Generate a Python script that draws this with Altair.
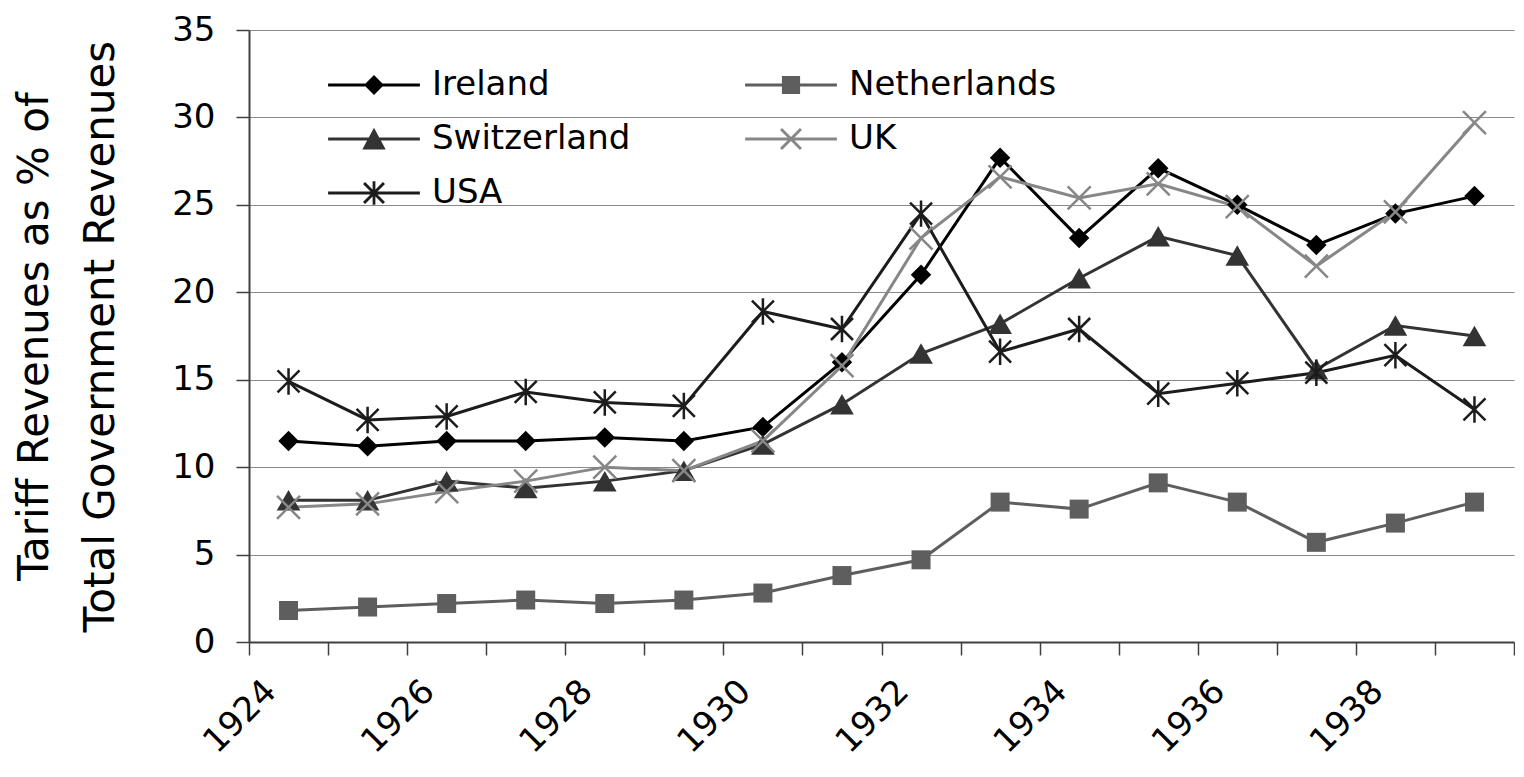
import altair as alt
import pandas as pd

# ---------------- data ----------------
years = list(range(1924, 1940))
countries = ["Ireland", "Netherlands", "Switzerland", "UK", "USA"]
ireland = [11.5, 11.2, 11.5, 11.5, 11.7, 11.5, 12.3, 16.0, 21.0, 27.7, 23.1, 27.1, 25.0, 22.7, 24.5, 25.5]
netherlands = [1.8, 2.0, 2.2, 2.4, 2.2, 2.4, 2.8, 3.8, 4.7, 8.0, 7.6, 9.1, 8.0, 5.7, 6.8, 8.0]
switzerland = [8.1, 8.1, 9.2, 8.8, 9.2, 9.8, 11.3, 13.6, 16.5, 18.2, 20.8, 23.2, 22.1, 15.6, 18.1, 17.5]
uk = [7.7, 7.9, 8.6, 9.2, 10.0, 9.8, 11.5, 15.8, 23.1, 26.6, 25.4, 26.2, 24.9, 21.5, 24.6, 29.7]
usa = [14.9, 12.7, 12.9, 14.3, 13.7, 13.5, 18.9, 17.9, 24.5, 16.6, 17.9, 14.2, 14.8, 15.4, 16.4, 13.3]

label_years = [1924, 1926, 1928, 1930, 1932, 1934, 1936, 1938]
y_ticks = [0, 5, 10, 15, 20, 25, 30, 35]
y_title = ["Tariff Revenues as % of", "Total Government Revenues"]

series = [ireland, netherlands, switzerland, uk, usa]
rows = []
for name, vals in zip(countries, series):
    for yr, v in zip(years, vals):
        rows.append({"year": yr, "country": name, "value": v})
df = pd.DataFrame(rows)

tick_bounds = [y - 0.5 for y in years] + [years[-1] + 0.5]

# ---------------- styles ----------------
FONT = "DejaVu Sans"
line_colors = ["#000000", "#5e5e5e", "#333333", "#878787", "#1c1c1c"]
marker_shapes = [
    "M0,-1L1,0L0,1L-1,0Z",
    "square",
    "triangle-up",
    "M-1,-1L1,1M-1,1L1,-1",
    "M-1,-1L1,1M-1,1L1,-1M0,-1.2L0,1.2",
]
marker_filled = [True, True, True, False, False]
marker_sizes = [420, 361, 560, 529, 484]


def f(v):
    return f"{v:.3f}"


def rect(x0, y0, x1, y1):
    return f"M{f(x0)},{f(y0)}L{f(x1)},{f(y0)}L{f(x1)},{f(y1)}L{f(x0)},{f(y1)}Z"


def diag_bar(a, w, sign):
    d = w / 2 ** 0.5
    if sign > 0:
        pts = [(-a + d, -a - d), (a + d, a - d), (a - d, a + d), (-a - d, -a + d)]
    else:
        pts = [(-a - d, a - d), (a - d, -a - d), (a + d, -a + d), (-a + d, a + d)]
    return "M" + "L".join(f"{f(x)},{f(y)}" for x, y in pts) + "Z"


HALF = 5.3   # half length of the legend line (symbol units)
TH = 0.17    # half thickness of the legend line
line_path = rect(-HALF, -TH, HALF, TH)
legend_shapes = [
    line_path + "M0,-1.15L1.15,0L0,1.15L-1.15,0Z",
    line_path + rect(-1.05, -1.05, 1.05, 1.05),
    line_path + "M0,-1.3L1.35,1.2L-1.35,1.2Z",
    line_path + diag_bar(1.15, 0.17, 1) + diag_bar(1.15, 0.17, -1),
    line_path + diag_bar(1.15, 0.17, 1) + diag_bar(1.15, 0.17, -1)
    + rect(-0.16, -1.35, 0.16, 1.35),
]

xscale = alt.Scale(domain=[years[0] - 0.5, years[-1] + 0.5], nice=False, zero=False)

x_ticks_axis = alt.X(
    "year:Q", scale=xscale,
    axis=alt.Axis(values=tick_bounds, labels=False, ticks=True, tickSize=13,
                  tickColor="#404040", tickWidth=1.5, domain=True,
                  domainColor="#404040", domainWidth=2, grid=False,
                  title=None, orient="bottom"),
)
x_label_axis = alt.X(
    "year:Q", scale=xscale,
    axis=alt.Axis(values=label_years, format="d", ticks=False, domain=False,
                  grid=False, labelAngle=-45, labelAlign="right",
                  labelBaseline="middle", labelPadding=44, labelOffset=-18,
                  labelFontSize=34, labelFont=FONT, labelColor="black",
                  labelOverlap=False, labelFlush=False, title=None,
                  orient="bottom"),
)
x_none = alt.X("year:Q", scale=xscale, axis=None)

y_enc = alt.Y(
    "value:Q",
    scale=alt.Scale(domain=[0, 35], nice=False),
    axis=alt.Axis(values=y_ticks, title=y_title, titleFontSize=42,
                  titleFontWeight="normal", titleFont=FONT, titleColor="black",
                  titleLineHeight=66, titlePadding=49,
                  labelFontSize=34, labelFont=FONT, labelColor="black",
                  labelPadding=21, tickSize=13, tickColor="#404040",
                  tickWidth=1.5, domainColor="#404040", domainWidth=2,
                  gridColor="#8a8a8a", gridWidth=1),
)

# colour scale listed in reverse order so its (hidden) legend is not merged
# with the shape legend below
color_enc = alt.Color(
    "country:N",
    scale=alt.Scale(domain=countries[::-1], range=line_colors[::-1]),
    legend=None,
)

leg = alt.Legend(
    title=None, orient="none", legendX=45, legendY=10, columns=2,
    direction="horizontal",
    columnPadding=108, rowPadding=20, labelFontSize=34, labelFont=FONT,
    labelColor="black", symbolSize=300, symbolStrokeWidth=0,
    symbolOpacity=1,
    symbolFillColor=alt.ExprRef(expr="scale('color', datum.value)"),
    symbolOffset=35, labelOffset=41, padding=28,
    labelLimit=500,
)

base = alt.Chart(df)

layers = [base.mark_line(strokeWidth=3).encode(x=x_ticks_axis, y=y_enc, color=color_enc)]

for i, name in enumerate(countries):
    x_enc = x_label_axis if i == 0 else x_none
    pts = base.transform_filter(
        alt.FieldEqualPredicate(field="country", equal=name)
    ).mark_point(
        shape=marker_shapes[i], size=marker_sizes[i], filled=marker_filled[i],
        opacity=1, strokeWidth=2.5,
    ).encode(x=x_enc, y=y_enc, color=color_enc)
    layers.append(pts)

legend_layer = base.mark_point(filled=True, opacity=0, size=1).encode(
    x=x_none, y=y_enc, color=color_enc,
    shape=alt.Shape("country:N", scale=alt.Scale(domain=countries, range=legend_shapes), legend=leg),
)
layers.append(legend_layer)

chart = alt.layer(*layers).resolve_axis(x="independent").properties(
    width=1265, height=612,
    padding={"left": 5, "top": 5, "right": 0, "bottom": 0},
).configure_view(stroke=None)

chart.save("out.html", embed_options={"renderer": "svg", "actions": False})
